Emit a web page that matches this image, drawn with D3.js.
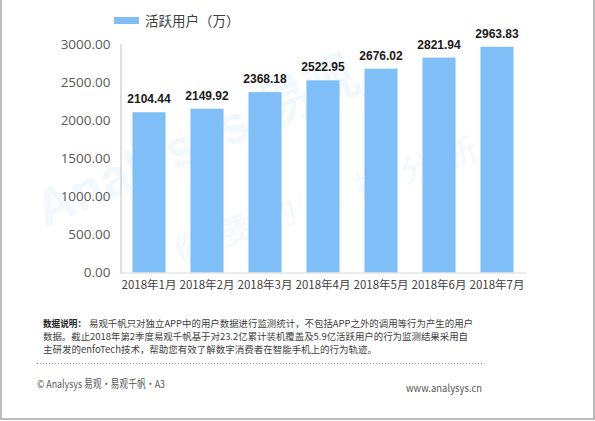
<!DOCTYPE html>
<html><head><meta charset="utf-8">
<script src="https://cdn.jsdelivr.net/npm/d3@7"></script>
<style>
html,body{margin:0;padding:0;background:#fff;}
svg{display:block;}
text{font-family:"Microsoft YaHei","Noto Sans CJK SC","Noto Sans",sans-serif;}
</style></head>
<body>
<svg id="chart" width="595" height="421"></svg>
<script>
const categories = ["2018年1月","2018年2月","2018年3月","2018年4月","2018年5月","2018年6月","2018年7月"];
const values = [2104.44, 2149.92, 2368.18, 2522.95, 2676.02, 2821.94, 2963.83];
const yTicks = [0, 500, 1000, 1500, 2000, 2500, 3000];
const seriesName = "活跃用户（万）";
const noteLabel = "数据说明：";
const noteLines = [
  "易观千帆只对独立APP中的用户数据进行监测统计，不包括APP之外的调用等行为产生的用户",
  "数据。截止2018年第2季度易观千帆基于对23.2亿累计装机覆盖及5.9亿活跃用户的行为监测结果采用自",
  "主研发的enfoTech技术，帮助您有效了解数字消费者在智能手机上的行为轨迹。"
];
const footerLeft = "© Analysys 易观·易观千帆·A3";
const footerRight = "www.analysys.cn";

const svg = d3.select("#chart");
const barColor = "#7fbef7";

// border (left, right, bottom)
svg.append("path").attr("d","M1,0 V419 H594 V0").attr("fill","none").attr("stroke","#a6a6a6").attr("stroke-width",1.5);

// watermark
const wm = svg.append("g").attr("pointer-events","none");
wm.append("text").attr("transform","translate(45,228) rotate(-24)")
  .attr("font-size",52).attr("font-weight","bold").attr("fill","#7fbef7").attr("opacity",0.1)
  .style("font-family","Liberation Sans, Arial, sans-serif")
  .text("Analysys 易观");
wm.append("text").attr("transform","translate(178,262) rotate(-19)")
  .attr("font-size",32).attr("fill","#7fbef7").attr("opacity",0.1).attr("letter-spacing",16)
  .text("你要的数据分析");

const x = d3.scaleBand().domain(categories).range([120, 526]).paddingInner(0.43).paddingOuter(0.215);
const y = d3.scaleLinear().domain([0, 3000]).range([272.5, 44]);

// bars
svg.append("g").selectAll("rect").data(values).join("rect")
  .attr("x",(d,i)=>x(categories[i])).attr("width",x.bandwidth())
  .attr("y",d=>y(d)).attr("height",d=>y(0)-y(d)).attr("fill",barColor);

// value labels
svg.append("g").selectAll("text").data(values).join("text")
  .attr("x",(d,i)=>x(categories[i])+x.bandwidth()/2).attr("y",d=>y(d)-9)
  .attr("text-anchor","middle").attr("font-size",12).attr("font-weight","bold").attr("fill","#1a1a1a")
  .style("font-family","Liberation Sans, Arial, sans-serif")
  .text(d=>d.toFixed(2));

// y axis
const yAxis = d3.axisLeft(y).tickValues(yTicks).tickFormat(d=>d.toFixed(2)).tickSize(0).tickPadding(10);
const gy = svg.append("g").attr("transform","translate(120.5,0)").call(yAxis);
gy.select(".domain").attr("stroke","#bfbfbf");
gy.selectAll("text").attr("font-size",13.5).attr("fill","#595959")
  .style("font-family","\"Open Sans\",\"Noto Sans\",sans-serif");

// x axis
const xAxis = d3.axisBottom(x).tickSize(0).tickPadding(8);
const gx = svg.append("g").attr("transform","translate(0,272.5)").call(xAxis);
gx.select(".domain").attr("stroke","#d9d9d9");
gx.selectAll("text").attr("font-size",11.5).attr("fill","#404040");

// legend
svg.append("rect").attr("x",114).attr("y",17).attr("width",25).attr("height",7).attr("fill",barColor);
svg.append("text").attr("x",145).attr("y",26).attr("font-size",13.5).attr("fill","#404040").text(seriesName);

// notes
svg.append("text").attr("x",43).attr("y",327).attr("font-size",9.5).attr("font-weight","bold").attr("fill","#262626")
  .attr("textLength",43).attr("lengthAdjust","spacingAndGlyphs").text(noteLabel);
const noteX = [89, 43, 43], noteW = [384, 425, 334];
noteLines.forEach((ln,i)=>{
  svg.append("text").attr("x",noteX[i]).attr("y",327+i*13).attr("font-size",9.5).attr("fill","#404040")
    .attr("textLength",noteW[i]).attr("lengthAdjust","spacingAndGlyphs").text(ln);
});

// dotted separator
svg.append("line").attr("x1",37).attr("x2",483).attr("y1",363.5).attr("y2",363.5)
  .attr("stroke","#8c8c8c").attr("stroke-dasharray","1,2");

// footer
svg.append("text").attr("x",37).attr("y",388).attr("font-size",11).attr("fill","#595959")
  .attr("textLength",128).attr("lengthAdjust","spacingAndGlyphs").text(footerLeft);
svg.append("text").attr("x",482).attr("y",392).attr("text-anchor","end").attr("font-size",10.5).attr("fill","#595959")
  .attr("textLength",76).attr("lengthAdjust","spacingAndGlyphs").text(footerRight);
</script>
</body></html>
